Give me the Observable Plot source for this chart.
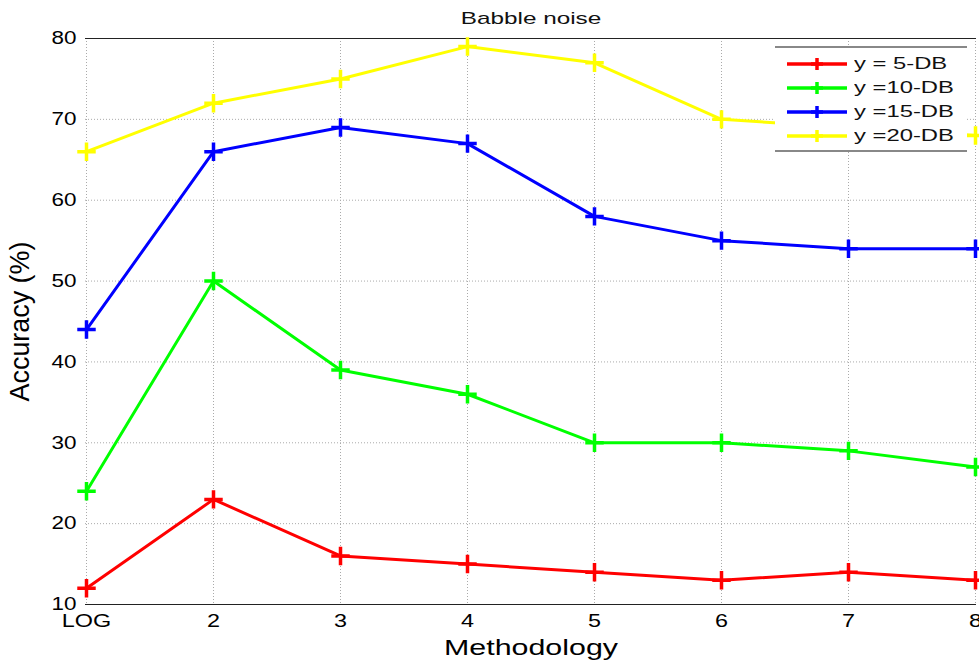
<!DOCTYPE html>
<html>
<head>
<meta charset="utf-8">
<script src="https://cdn.jsdelivr.net/npm/d3@7"></script>
<script src="https://cdn.jsdelivr.net/npm/@observablehq/plot@0.6"></script>
<style>
  html, body { margin: 0; padding: 0; background: #fff; }
  #chart { position: relative; width: 979px; height: 663px; font-family: "Liberation Sans", Arial, sans-serif; }
  #chart svg { font-family: "Liberation Sans", Arial, sans-serif; }
  #legend {
    position: absolute; left: 775px; top: 46px; width: 192px; height: 106px;
    background: #fff; border-top: 2px solid #888; border-bottom: 2px solid #888;
    box-sizing: border-box; padding-top: 4px;
  }
  .row { display: flex; align-items: center; height: 24px; }
  .row svg { display: block; margin-left: 11px; }
  .row span { display: inline-block; margin-left: 6px; font-size: 17px; color: #111;
              transform: scaleX(1.4); transform-origin: left center; }
</style>
</head>
<body>
<div id="chart"></div>
<script>
// Methods compared on the x axis
const methods = ["LOG", "2", "3", "4", "5", "6", "7", "8"];
// Accuracy (%) for each SNR level
const snr5 = [12, 23, 16, 15, 14, 13, 14, 13];
const snr10 = [24, 50, 39, 36, 30, 30, 29, 27];
const snr15 = [44, 66, 69, 67, 58, 55, 54, 54];
const snr20 = [66, 72, 75, 79, 77, 70, 69, 68];
const seriesNames = ["y = 5-DB", "y =10-DB", "y =15-DB", "y =20-DB"];
const seriesColors = ["#ff0000", "#00ff00", "#0000ff", "#ffff00"];
const yTicks = [10, 20, 30, 40, 50, 60, 70, 80];

const allSeries = [snr5, snr10, snr15, snr20];
const rows = allSeries.flatMap((vals, i) =>
  vals.map((v, j) => ({method: methods[j], acc: v, series: seriesNames[i]}))
);

const chart = Plot.plot({
  width: 979,
  height: 663,
  marginTop: 38,
  marginLeft: 85,
  marginRight: 3,
  marginBottom: 59,
  x: {type: "point", domain: methods, padding: 0},
  y: {domain: [10, 80]},
  color: {domain: seriesNames, range: seriesColors},
  marks: [
    Plot.gridX(methods, {stroke: "#aaa", strokeOpacity: 1, strokeDasharray: "1,2"}),
    Plot.gridY(yTicks, {stroke: "#aaa", strokeOpacity: 1, strokeDasharray: "1,2"}),
    Plot.ruleY([10], {stroke: "#222", strokeWidth: 1}),
    Plot.ruleY([80], {stroke: "#222", strokeWidth: 1}),
    Plot.axisX({tickSize: 0, tickPadding: 10, fontSize: 18, label: "Methodology", labelAnchor: "center", labelArrow: "none", labelOffset: 50}),
    Plot.axisY(yTicks, {tickSize: 0, tickPadding: 9, fontSize: 18, label: "Accuracy (%)", labelAnchor: "center", labelArrow: "none", labelOffset: 76}),
    Plot.line(rows, {x: "method", y: "acc", z: "series", stroke: "series", strokeWidth: 3}),
    Plot.dot(rows, {x: "method", y: "acc", stroke: "series", symbol: "plus", r: 6, strokeWidth: 3.5}),
    Plot.text(["Babble noise"], {frameAnchor: "top", lineAnchor: "middle", dy: -20, fontSize: 17, fill: "#111"})
  ]
});

const host = document.getElementById("chart");
host.appendChild(chart);

// Stretch glyphs along the text direction by a factor
function stretch(selector, k, fontSize) {
  chart.querySelectorAll(selector).forEach(t => {
    if (fontSize) t.style.fontSize = fontSize + "px";
    const len = t.getComputedTextLength();
    t.setAttribute("textLength", (len * k).toFixed(1));
    t.setAttribute("lengthAdjust", "spacingAndGlyphs");
  });
}
stretch('[aria-label="x-axis tick label"] text', 1.3);
stretch('[aria-label="y-axis tick label"] text', 1.25);
stretch('[aria-label="x-axis label"] text', 1.38, 22);
stretch('[aria-label="y-axis label"] text', 0.96, 28);
stretch('[aria-label="text"] text', 1.43);

// Legend box drawn over the upper right of the plot
const legend = document.createElement("div");
legend.id = "legend";
seriesNames.forEach((name, i) => {
  const row = document.createElement("div");
  row.className = "row";
  const sw = d3.create("svg").attr("width", 62).attr("height", 20);
  sw.append("line").attr("x1", 1).attr("x2", 61).attr("y1", 10).attr("y2", 10)
    .attr("stroke", seriesColors[i]).attr("stroke-width", 3.5);
  sw.append("path").attr("d", "M31,4V16M25,10H37")
    .attr("stroke", seriesColors[i]).attr("stroke-width", 3.5);
  row.appendChild(sw.node());
  const label = document.createElement("span");
  label.textContent = name;
  row.appendChild(label);
  legend.appendChild(row);
});
host.appendChild(legend);
</script>
</body>
</html>
